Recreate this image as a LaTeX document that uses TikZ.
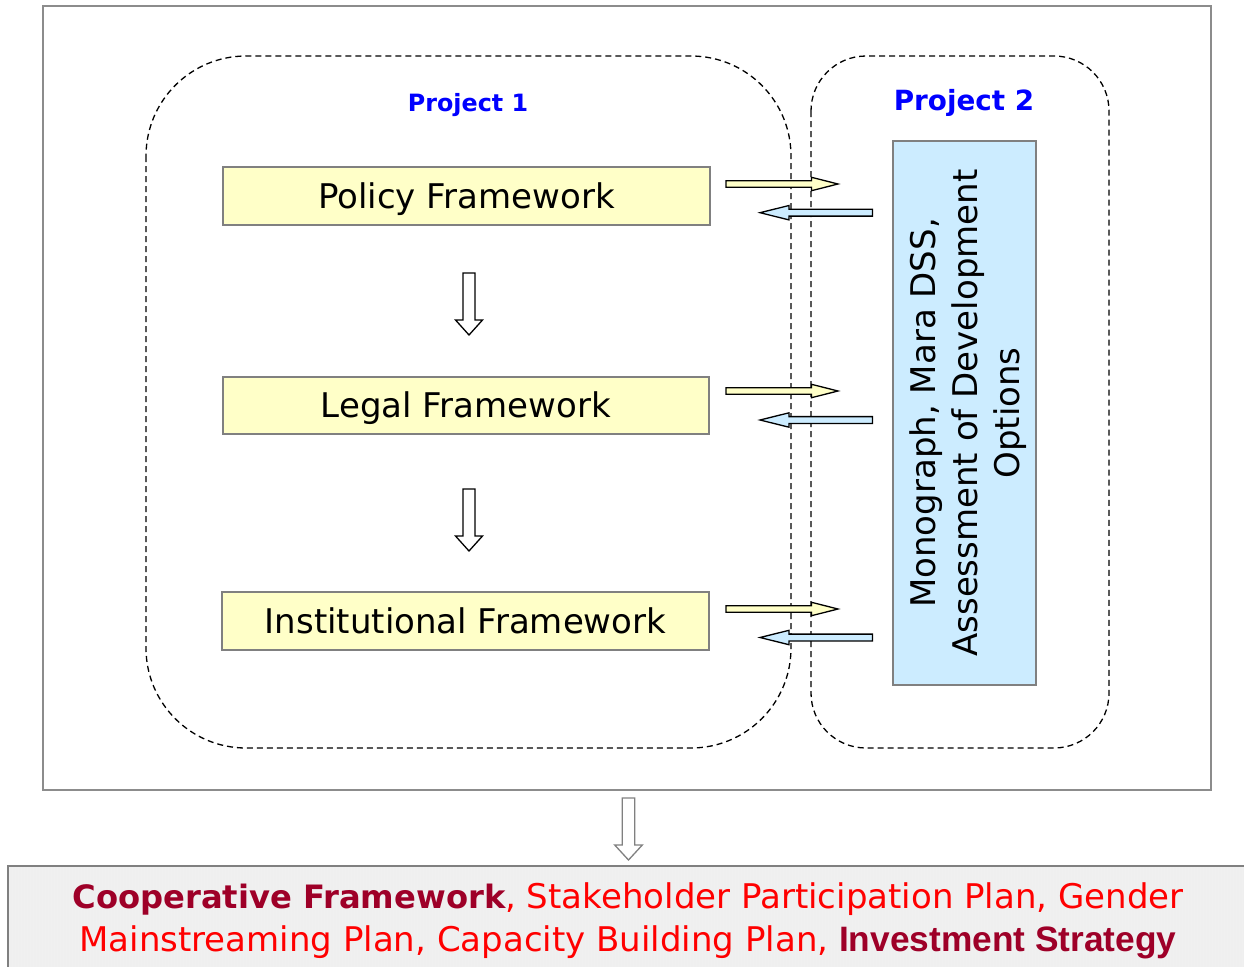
\documentclass[tikz,border=0pt]{standalone}
\usepackage{fontspec}
\setmainfont{DejaVu Sans}
\newfontfamily\arialfont{Liberation Sans}
\definecolor{framegray}{HTML}{8C8C8C}
\definecolor{boxgray}{HTML}{808080}
\definecolor{yellowfill}{HTML}{FFFFC8}
\definecolor{bluefill}{HTML}{CCECFF}
\definecolor{projblue}{HTML}{0000FF}
\definecolor{darkred}{HTML}{9E0028}
\definecolor{brightred}{HTML}{FF0000}
\definecolor{panelfill}{HTML}{EFEFEF}
\tikzset{
  framebox/.style={draw=boxgray, line width=1.6, inner sep=0pt, text height=27pt, text depth=3pt,
    font=\fontsize{34}{42}\selectfont},
  region/.style={draw=black, line width=1.3, dash pattern=on 6pt off 4pt},
  projlabel/.style={text=projblue, font=\bfseries\fontsize{23.8}{28}\selectfont},
  pics/blockarrow/.style n args={4}{code={
    \draw[pic actions] (0,-#2) -- (#1-#4,-#2) -- (#1-#4,-#3) -- (#1,0)
      -- (#1-#4,#3) -- (#1-#4,#2) -- (0,#2) -- cycle;}},
  sidearrow/.style={draw=black, line width=1.3},
  downarrow/.style={draw=black, line width=1.3, fill=white},
  resultline/.style={inner sep=0pt, font=\fontsize{34}{42}\selectfont, text=brightred}
}
\begin{document}
\begin{tikzpicture}[x=1pt, y=-1pt]
\useasboundingbox (0,0) rectangle (1244,966);
\clip (0,0) rectangle (1244,966);

% outer frame
\draw[draw=framegray, line width=1.6] (43,6) rectangle (1211,790);

% project regions
\draw[region, rounded corners=100] (146,56) rectangle (791,748);
\draw[region, rounded corners=55] (811,56) rectangle (1109,748);
\node[projlabel] (p1) at (468,105) {Project 1};
\node[projlabel, font=\bfseries\fontsize{27.8}{32}\selectfont] (p2) at (964,103) {Project 2};

% framework boxes
\node[framebox, fill=yellowfill, minimum width=487, minimum height=58] (policy) at (466.5,196) {Policy Framework};
\node[framebox, fill=yellowfill, minimum width=486, minimum height=57] (legal) at (466,405.5) {Legal Framework};
\node[framebox, fill=yellowfill, minimum width=487, minimum height=58] (inst) at (465.5,621) {Institutional Framework};

% project 2 outputs
\node[framebox, fill=bluefill, minimum width=143, minimum height=544] (mono) at (964.5,413) {};
\node[rotate=90, align=center, inner sep=0pt, font=\fontsize{34}{42}\selectfont] (monotext)
  at ([xshift=4pt]mono.center)
  {Monograph, Mara DSS,\\Assessment of Development\\Options};

% vertical flow between frameworks
\pic[downarrow, rotate=-90] at (469,273) {blockarrow={62}{6}{13.5}{15}};
\pic[downarrow, rotate=-90] at (469,489) {blockarrow={62}{6}{13.5}{15}};

% exchanges between the two projects
\foreach \ya/\yb in {184/212.7, 391/420, 609/637.5}{
  \pic[sidearrow, fill=yellowfill] at (726,\ya) {blockarrow={112}{3.2}{6.7}{26.5}};
  \pic[sidearrow, fill=bluefill, rotate=180] at (872.5,\yb) {blockarrow={112.5}{3.4}{7.2}{29}};
}

% result arrow
\pic[draw=boxgray, line width=1.3, fill=white, rotate=-90] at (628.5,798) {blockarrow={62}{6.3}{13.8}{15}};

% results panel
\draw[draw=boxgray, line width=1.6, fill=panelfill] (8,866) rectangle (1270,1000);
\begin{scope}
  \clip (9,867) rectangle (1270,1000);
  \draw[white!88!gray, line width=0.3, step=3] (9,867) grid (1270,1000);
\end{scope}
\node[resultline] (res1) at (628,899)
  {\textcolor{darkred}{\bfseries\fontsize{32.2}{42}\selectfont Cooperative Framework}, Stakeholder Participation Plan, Gender};
\node[resultline] (res2) at (628,942)
  {Mainstreaming Plan, Capacity Building Plan, \textcolor{darkred}{\arialfont\bfseries\fontsize{35.3}{42}\selectfont Investment Strategy}};
\end{tikzpicture}
\end{document}
